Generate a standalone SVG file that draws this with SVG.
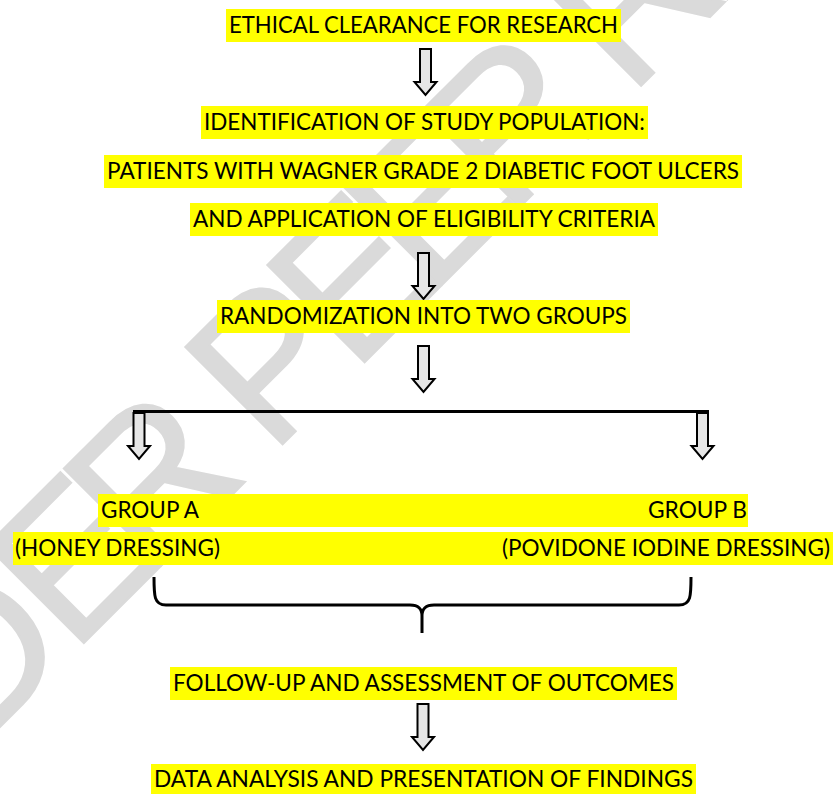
<svg xmlns="http://www.w3.org/2000/svg" width="833" height="794" viewBox="0 0 833 794">
<style>
.hl{fill:#ffff00}
.t{font-family:Lato,"Liberation Sans",sans-serif;font-size:24px;fill:#000}
.c{text-anchor:middle}
.arr{fill:#e6e6e6;stroke:#000;stroke-width:2;stroke-linejoin:miter}
.ln{fill:none;stroke:#000;stroke-width:3}
.wm{font-family:"Liberation Sans",Arial,sans-serif;font-size:200px;fill:#dadada;stroke:#dadada;stroke-width:2}
</style>
<defs>
<path id="arrow" class="arr" d="M-5.5,0 H5.5 V33 H11 L0,46 L-11,33 H-5.5 Z"/>
</defs>
<rect width="833" height="794" fill="#fff"/>
<g id="watermark">
<text class="wm" transform="translate(-231,958) rotate(-45)" x="0 146 291 429 538 660 710 826 935 1045 1166 1217 1339 1448 1578 1634 1743" y="0">UNDER PEER REVIEW</text>
</g>
<g id="connectors">
<use href="#arrow" transform="translate(425.5,49)"/>
<use href="#arrow" transform="translate(423.5,253)"/>
<use href="#arrow" transform="translate(423.5,346)"/>
<path class="ln" d="M133,411.5 H709"/>
<use href="#arrow" transform="translate(139,413)"/>
<use href="#arrow" transform="translate(702.5,413)"/>
<path class="ln" d="M154,577 C154,596 154,605 166,605 L410,605 C418,605 422,608 422,616 L422,633 M422,616 C422,608 426,605 434,605 L679,605 C691,605 691,596 691,577"/>
<use href="#arrow" transform="translate(423,704)"/>
</g>
<g id="n1">
<rect class="hl" x="226" y="9" width="395" height="33"/>
<text class="t c" x="423.5" y="33" textLength="389" lengthAdjust="spacingAndGlyphs">ETHICAL CLEARANCE FOR RESEARCH</text>
</g>
<g id="n2">
<rect class="hl" x="201" y="106" width="447" height="33"/>
<text class="t c" x="424.5" y="130" textLength="441" lengthAdjust="spacingAndGlyphs">IDENTIFICATION OF STUDY POPULATION:</text>
<rect class="hl" x="104" y="155" width="638" height="33"/>
<text class="t c" x="423" y="179" textLength="632" lengthAdjust="spacingAndGlyphs">PATIENTS WITH WAGNER GRADE 2 DIABETIC FOOT ULCERS</text>
<rect class="hl" x="190" y="203" width="468" height="33"/>
<text class="t c" x="424" y="227" textLength="462" lengthAdjust="spacingAndGlyphs">AND APPLICATION OF ELIGIBILITY CRITERIA</text>
</g>
<g id="n3">
<rect class="hl" x="217" y="300" width="413" height="33"/>
<text class="t c" x="423.5" y="324" textLength="407" lengthAdjust="spacingAndGlyphs">RANDOMIZATION INTO TWO GROUPS</text>
</g>
<g id="groups">
<rect class="hl" x="98" y="494" width="650" height="33"/>
<rect class="hl" x="13" y="532" width="820" height="33"/>
<g id="groupA">
<text class="t" x="101" y="518" textLength="98" lengthAdjust="spacingAndGlyphs">GROUP A</text>
<text class="t" x="15" y="556" textLength="205" lengthAdjust="spacingAndGlyphs">(HONEY DRESSING)</text>
</g>
<g id="groupB">
<text class="t" x="648" y="518" textLength="99" lengthAdjust="spacingAndGlyphs">GROUP B</text>
<text class="t" x="502" y="556" textLength="328" lengthAdjust="spacingAndGlyphs">(POVIDONE IODINE DRESSING)</text>
</g>
</g>
<g id="n4">
<rect class="hl" x="170" y="667" width="507" height="33"/>
<text class="t c" x="423.5" y="691" textLength="501" lengthAdjust="spacingAndGlyphs">FOLLOW-UP AND ASSESSMENT OF OUTCOMES</text>
</g>
<g id="n5">
<rect class="hl" x="151" y="764" width="545" height="33"/>
<text class="t c" x="423.5" y="787" textLength="539" lengthAdjust="spacingAndGlyphs">DATA ANALYSIS AND PRESENTATION OF FINDINGS</text>
</g>
</svg>
